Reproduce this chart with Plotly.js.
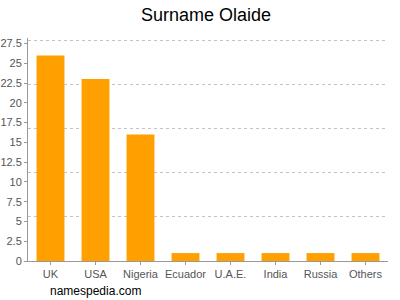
<!DOCTYPE html>
<html>
<head>
<meta charset="utf-8">
<script src="https://cdn.plot.ly/plotly-3.0.1.min.js"></script>
<style>html,body{margin:0;padding:0;background:#fff;}#chart{width:400px;height:300px;}</style>
</head>
<body>
<div id="chart"></div>
<script>
const categories = ["UK", "USA", "Nigeria", "Ecuador", "U.A.E.", "India", "Russia", "Others"];
const counts = [26, 23, 16, 1, 1, 1, 1, 1];
const yTickValues = [0, 2.5, 5, 7.5, 10, 12.5, 15, 17.5, 20, 22.5, 25, 27.5];
const yTickLabels = ["0", "2.5", "5", "7.5", "10", "12.5", "15", "17.5", "20", "22.5", "25", "27.5"];
const gridStep = 5.58;

const data = [
  {type: "bar", x: categories, y: counts, marker: {color: "#ffa000"}, hoverinfo: "none"},
  {type: "scatter", x: [categories[0]], y: [0], yaxis: "y2", mode: "markers", marker: {opacity: 0}, hoverinfo: "none", showlegend: false}
];
const layout = {
  width: 400, height: 300,
  margin: {l: 28, r: 12, t: 38, b: 39},
  paper_bgcolor: "#fff", plot_bgcolor: "#fff",
  showlegend: false,
  bargap: 0.38,
  font: {family: "Liberation Sans, Arial, sans-serif", size: 11, color: "#555"},
  title: {text: "Surname Olaide", x: 0.515, xanchor: "center", y: 0.95, yanchor: "middle", font: {size: 18, color: "#000", family: "Liberation Sans, Arial, sans-serif"}},
  xaxis: {showline: true, linecolor: "#999", linewidth: 1, ticks: "outside", ticklen: 3, tickcolor: "#999", showgrid: false, tickfont: {size: 11, color: "#555"}, fixedrange: true},
  yaxis: {range: [0, 28.2], tickvals: yTickValues, ticktext: yTickLabels, showline: true, linecolor: "#999", linewidth: 1, ticks: "outside", ticklen: 3, tickcolor: "#999", showgrid: false, zeroline: false, tickfont: {size: 11, color: "#555"}, fixedrange: true},
  yaxis2: {overlaying: "y", range: [0, 28.2], tick0: 0, dtick: gridStep, showgrid: true, griddash: "3px,3px", gridcolor: "#c4c4c4", gridwidth: 1, showticklabels: false, ticks: "", zeroline: false, showline: false, side: "right", fixedrange: true},
  annotations: [{text: "namespedia.com", xref: "paper", yref: "paper", x: 0.055, y: -0.1345, xanchor: "left", yanchor: "middle", showarrow: false, font: {size: 12, color: "#000"}}]
};
Plotly.newPlot("chart", data, layout, {displayModeBar: false, staticPlot: true});
</script>
</body>
</html>
